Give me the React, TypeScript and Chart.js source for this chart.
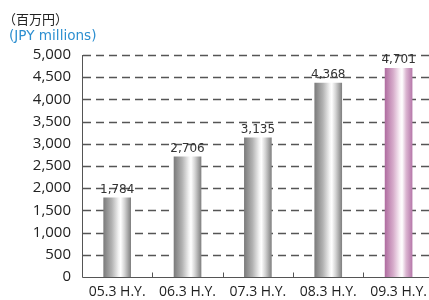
import React, { useEffect, useRef } from "react";
import { Chart, registerables } from "chart.js";

Chart.register(...registerables);

const categories = ["05.3 H.Y.", "06.3 H.Y.", "07.3 H.Y.", "08.3 H.Y.", "09.3 H.Y."];
const revenue = [1784, 2706, 3135, 4368, 4701];
const highlightIndex = [4];
const yTicks = [0, 500, 1000, 1500, 2000, 2500, 3000, 3500, 4000, 4500, 5000];

const grayStops: [number, string][] = [
  [0, "#7c7c7c"],
  [0.3, "#b2b2b2"],
  [0.55, "#f2f2f2"],
  [0.63, "#ffffff"],
  [0.78, "#d2d2d2"],
  [1, "#828282"],
];
const pinkStops: [number, string][] = [
  [0, "#b06ea1"],
  [0.3, "#d6abca"],
  [0.55, "#faf2f7"],
  [0.63, "#ffffff"],
  [0.78, "#dbb5d1"],
  [1, "#b77aab"],
];

const BAR_W = 27;

const fmt = (v: number) => v.toLocaleString("en-US");

const gridPlugin = {
  id: "dashedGrid",
  beforeDatasetsDraw(chart: any) {
    const ctx = chart.ctx;
    const ys = chart.scales.y;
    const area = chart.chartArea;
    ctx.save();
    ctx.strokeStyle = "#555";
    ctx.lineWidth = 1.5;
    ctx.setLineDash([8, 5]);
    ys.ticks.forEach((t: any) => {
      if (t.value === 0) return;
      const y = Math.round(ys.getPixelForValue(t.value)) + 0.5;
      ctx.beginPath();
      ctx.moveTo(area.left + 1, y);
      ctx.lineTo(chart.width, y);
      ctx.stroke();
    });
    ctx.restore();
  },
  afterDatasetsDraw(chart: any) {
    const ctx = chart.ctx;
    const xs = chart.scales.x;
    const area = chart.chartArea;
    ctx.save();
    ctx.strokeStyle = "#555";
    ctx.lineWidth = 1;
    // axis lines
    const left = Math.round(area.left) + 0.5;
    const bottom = Math.round(area.bottom) + 0.5;
    ctx.beginPath();
    ctx.moveTo(left, Math.round(area.top));
    ctx.lineTo(left, bottom);
    ctx.lineTo(chart.width, bottom);
    ctx.stroke();
    // inner tick marks between categories
    for (let i = 1; i < categories.length; i++) {
      const x = Math.round((xs.getPixelForValue(i - 1) + xs.getPixelForValue(i)) / 2) + 0.5;
      ctx.beginPath();
      ctx.moveTo(x, bottom - 5);
      ctx.lineTo(x, bottom);
      ctx.stroke();
    }
    // value labels
    const meta = chart.getDatasetMeta(0);
    ctx.fillStyle = "#333";
    ctx.font = "12px 'DejaVu Sans'";
    ctx.textAlign = "center";
    ctx.textBaseline = "alphabetic";
    meta.data.forEach((el: any, i: number) => {
      ctx.fillText(fmt(revenue[i]), el.x, el.y - 5);
    });
    ctx.restore();
  },
};

export default function App() {
  const ref = useRef<HTMLCanvasElement | null>(null);

  useEffect(() => {
    if (!ref.current) return;
    const chart = new Chart(ref.current, {
      type: "bar",
      data: {
        labels: categories,
        datasets: [
          {
            data: revenue,
            barThickness: BAR_W,
            borderWidth: 0,
            backgroundColor: (c: any) => {
              const ch = c.chart;
              const xs = ch.scales && ch.scales.x;
              const idx = c.dataIndex;
              if (!xs || typeof idx !== "number") return "#aaa";
              const cx = xs.getPixelForValue(idx);
              if (!Number.isFinite(cx) || !Number.isFinite(xs.width) || xs.width <= 0) return "#aaa";
              const g = ch.ctx.createLinearGradient(cx - BAR_W / 2, 0, cx + BAR_W / 2, 0);
              const stops = highlightIndex.includes(idx) ? pinkStops : grayStops;
              stops.forEach(([p, col]) => g.addColorStop(p, col));
              return g;
            },
          },
        ],
      },
      options: {
        responsive: false,
        animation: false,
        events: [],
        layout: { padding: { top: 55, left: 0, right: 0, bottom: 0 } },
        plugins: {
          legend: { display: false },
          tooltip: { enabled: false },
          title: { display: false },
        },
        scales: {
          x: {
            offset: true,
            grid: { display: false, drawTicks: false },
            border: { display: false },
            ticks: {
              padding: 7,
              color: "#222",
              font: { family: "'Open Sans'", size: 14 },
              maxRotation: 0,
              autoSkip: false,
            },
            afterFit: (s: any) => {
              s.height = 23;
            },
          },
          y: {
            min: 0,
            max: 5000,
            afterBuildTicks: (s: any) => {
              s.ticks = yTicks.map((v) => ({ value: v }));
            },
            grid: { display: false, drawTicks: false },
            border: { display: false },
            ticks: {
              padding: 11,
              color: "#222",
              font: { family: "'Open Sans'", size: 15 },
              callback: (v: any) => fmt(Number(v)),
            },
            afterFit: (s: any) => {
              s.width = 82;
            },
          },
        },
      },
      plugins: [gridPlugin],
    });
    return () => chart.destroy();
  }, []);

  return (
    <div
      style={{
        position: "fixed",
        left: 0,
        top: 0,
        width: 429,
        height: 300,
        overflow: "hidden",
        background: "#fff",
      }}
    >
      <canvas ref={ref} width={434} height={300} style={{ position: "absolute", left: 0, top: 0 }} />
      <div
        style={{
          position: "absolute",
          left: 3,
          top: 11,
          fontFamily: "'Noto Sans CJK JP'",
          fontSize: 13,
          lineHeight: "16px",
          color: "#222",
          whiteSpace: "nowrap",
        }}
      >
        （百万円）
      </div>
      <div
        style={{
          position: "absolute",
          left: 9,
          top: 27,
          fontFamily: "'DejaVu Sans'",
          fontSize: 13.6,
          lineHeight: "16px",
          color: "#2d8fd0",
          whiteSpace: "nowrap",
        }}
      >
        (JPY millions)
      </div>
    </div>
  );
}
